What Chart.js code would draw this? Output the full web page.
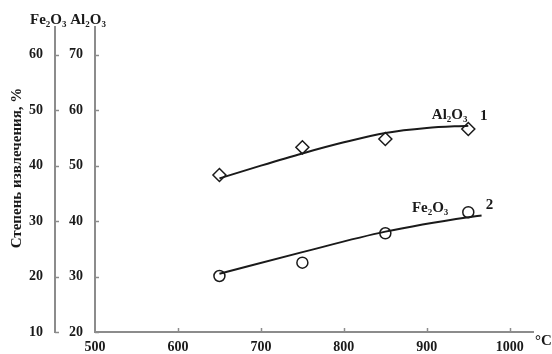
<!DOCTYPE html>
<html>
<head>
<meta charset="utf-8">
<script src="https://cdn.jsdelivr.net/npm/chart.js@4.4.1/dist/chart.umd.min.js"></script>
<style>
  html, body { margin: 0; padding: 0; background: #fff; }
</style>
</head>
<body>
<canvas id="chart" width="552" height="354"></canvas>
<script>
// measured points, °C
const temps = [650, 750, 850, 950];
const al2o3Points = [48.3, 53.3, 54.8, 56.6];
const fe2o3Points = [20.1, 22.5, 27.8, 31.6];

// fitted curves
const al2o3CurveT = [650, 700, 750, 800, 850, 900, 950];
const al2o3Curve = [47.7, 50.0, 52.2, 54.2, 55.9, 56.8, 57.2];
const fe2o3CurveT = [650, 750, 850, 950, 966];
const fe2o3Curve = [20.5, 24.4, 28.1, 30.7, 31.0];

// tick labels
const xTicks = [500, 600, 700, 800, 900, 1000];
const feTicks = [10, 20, 30, 40, 50, 60];
const alTicks = [20, 30, 40, 50, 60, 70];

const SERIF = '"Liberation Serif", "Times New Roman", serif';
const AXIS_GREY = '#8c8c8c';
const INK = '#1a1a1a';
const tickFont = { family: SERIF, size: 14, weight: 'bold' };

const toXY = (xs, ys) => xs.map((x, i) => ({ x: x, y: ys[i] }));

const decor = {
  id: 'decor',
  afterDraw(chart) {
    const ctx = chart.ctx;
    const { x, yAl, yFe } = chart.scales;
    ctx.save();
    ctx.strokeStyle = AXIS_GREY;
    ctx.lineWidth = 1.5;
    // small inward tick marks
    alTicks.forEach((v) => {
      const py = Math.round(yAl.getPixelForValue(v)) + 0.5;
      ctx.beginPath(); ctx.moveTo(yAl.right, py); ctx.lineTo(yAl.right + 4, py); ctx.stroke();
    });
    feTicks.forEach((v) => {
      const py = Math.round(yFe.getPixelForValue(v)) + 0.5;
      ctx.beginPath(); ctx.moveTo(yFe.right, py); ctx.lineTo(yFe.right + 4, py); ctx.stroke();
    });
    xTicks.slice(1).forEach((v) => {
      const px = Math.round(x.getPixelForValue(v)) + 0.5;
      ctx.beginPath(); ctx.moveTo(px, x.top); ctx.lineTo(px, x.top - 4); ctx.stroke();
    });

    ctx.fillStyle = INK;
    ctx.textBaseline = 'middle';
    ctx.textAlign = 'left';
    ctx.font = 'bold 15px ' + SERIF;
    ctx.fillText('Fe₂O₃ Al₂O₃', 30, 20);

    ctx.fillText('Al₂O₃', x.getPixelForValue(906), yAl.getPixelForValue(59.1));
    ctx.fillText('1', x.getPixelForValue(964), yAl.getPixelForValue(59.0));
    ctx.fillText('Fe₂O₃', x.getPixelForValue(882), yFe.getPixelForValue(32.4));
    ctx.fillText('2', x.getPixelForValue(971), yFe.getPixelForValue(32.9));

    ctx.fillText('°C', 535, 341);

    ctx.translate(17, 168);
    ctx.rotate(-Math.PI / 2);
    ctx.textAlign = 'center';
    ctx.fillText('Степень извлечения, %', 0, 0);
    ctx.restore();
  }
};

new Chart(document.getElementById('chart'), {
  type: 'scatter',
  data: {
    datasets: [
      {
        data: toXY(temps, al2o3Points),
        yAxisID: 'yAl',
        pointStyle: 'rectRot',
        pointRadius: 6.5,
        borderColor: INK,
        borderWidth: 1.5,
        backgroundColor: 'rgba(0,0,0,0)',
        showLine: false
      },
      {
        data: toXY(al2o3CurveT, al2o3Curve),
        yAxisID: 'yAl',
        showLine: true,
        pointRadius: 0,
        borderColor: INK,
        borderWidth: 2,
        cubicInterpolationMode: 'monotone'
      },
      {
        data: toXY(temps, fe2o3Points),
        yAxisID: 'yFe',
        pointStyle: 'circle',
        pointRadius: 5.5,
        borderColor: INK,
        borderWidth: 1.5,
        backgroundColor: 'rgba(0,0,0,0)',
        showLine: false
      },
      {
        data: toXY(fe2o3CurveT, fe2o3Curve),
        yAxisID: 'yFe',
        showLine: true,
        pointRadius: 0,
        borderColor: INK,
        borderWidth: 2,
        cubicInterpolationMode: 'monotone'
      }
    ]
  },
  options: {
    responsive: false,
    animation: false,
    layout: { padding: { left: 0, top: 27, right: 19, bottom: 0 } },
    plugins: { legend: { display: false }, tooltip: { enabled: false } },
    scales: {
      x: {
        type: 'linear',
        position: 'bottom',
        min: 500,
        max: 1028,
        afterBuildTicks: (s) => { s.ticks = xTicks.map((v) => ({ value: v })); },
        afterFit: (s) => { s.height = 22; },
        grid: { display: false, drawTicks: false },
        border: { display: true, color: AXIS_GREY, width: 2 },
        ticks: { font: tickFont, color: INK, padding: 7, maxRotation: 0, callback: (v) => String(v) }
      },
      yAl: {
        type: 'linear',
        position: 'left',
        weight: 0,
        min: 20,
        max: 75,
        afterBuildTicks: (s) => { s.ticks = alTicks.map((v) => ({ value: v })); },
        afterFit: (s) => { s.width = 40; },
        grid: { display: false, drawTicks: false },
        border: { display: true, color: AXIS_GREY, width: 2 },
        ticks: { font: tickFont, color: INK, padding: 12, callback: (v) => String(v) }
      },
      yFe: {
        type: 'linear',
        position: 'left',
        weight: 1,
        min: 10,
        max: 65,
        afterBuildTicks: (s) => { s.ticks = feTicks.map((v) => ({ value: v })); },
        afterFit: (s) => { s.width = 55; },
        grid: { display: false, drawTicks: false },
        border: { display: true, color: AXIS_GREY, width: 2 },
        ticks: { font: tickFont, color: INK, padding: 12, callback: (v) => String(v) }
      }
    }
  },
  plugins: [decor]
});
</script>
</body>
</html>
